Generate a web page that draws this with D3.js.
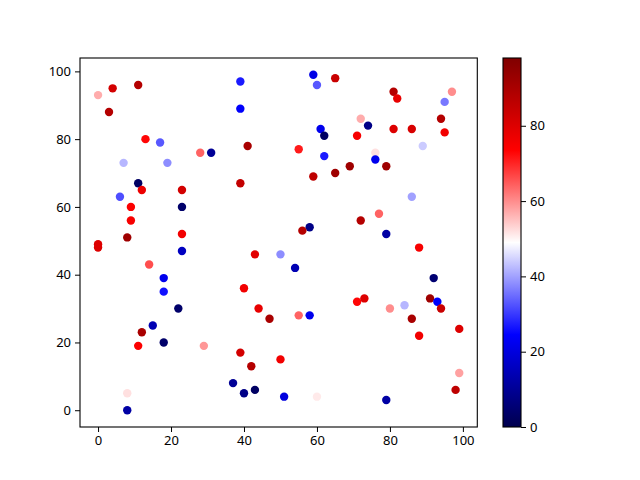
<!DOCTYPE html>
<html>
<head>
<meta charset="utf-8">
<script src="https://cdn.jsdelivr.net/npm/d3@7"></script>
<style>
  body { margin: 0; background: #fff; }
  text { font-family: "Noto Sans", "DejaVu Sans", sans-serif; }
</style>
</head>
<body>
<div id="chart"></div>
<script>
// point values
const xs = [0,4,11,3,39,39,13,17,41,28,31,7,19,11,12,23,39,6,9,23,9,8,23,0,
  59,60,65,81,82,97,95,72,74,61,62,71,81,86,94,95,89,55,62,76,76,69,79,59,65,86,77,72,58,56,79,
  0,23,43,50,14,18,18,22,40,44,47,15,12,11,18,29,39,42,50,37,40,43,8,8,
  88,54,92,71,73,80,84,91,93,94,55,58,86,99,88,99,98,51,60,79];
const ys = [93,95,96,88,97,89,80,79,78,76,76,73,73,67,65,65,67,63,60,60,56,51,52,49,
  99,96,98,94,92,94,91,86,84,83,81,81,83,83,86,82,78,77,75,76,74,72,72,69,70,63,58,56,54,53,52,
  48,47,46,46,43,39,35,30,36,30,27,25,23,19,20,19,17,13,15,8,5,6,5,0,
  48,42,39,32,33,30,31,33,32,30,28,28,27,24,22,11,6,4,4,3];
const cs = [57,82,88,88,27,24,73,33,90,64,10,42,38,3,77,82,85,32,74,4,75,92,76,80,
  21,33,84,88,78,60,36,57,8,22,3,75,80,81,88,76,44,71,27,52,22,92,92,86,92,40,64,88,8,88,12,
  80,16,79,38,66,22,26,4,76,78,90,14,90,74,4,59,82,88,76,10,8,3,52,12,
  75,14,5,73,80,60,42,92,24,84,64,22,90,80,76,58,86,20,51,12];
const cTicks = [0, 20, 40, 60, 80];
const axisTicks = [0, 20, 40, 60, 80, 100];

const W = 640, H = 480;
const plot = { left: 80, right: 477.3, top: 58, bottom: 427 };
const cbar = { left: 503, right: 521 };

const svg = d3.select("#chart").append("svg")
  .attr("width", W).attr("height", H);

// seismic colormap
const vmin = 0, vmax = 98;
const color = d3.scaleLinear()
  .domain([0, 0.25, 0.5, 0.75, 1].map(t => vmin + t * (vmax - vmin)))
  .range(["rgb(0,0,77)", "rgb(0,0,255)", "rgb(255,255,255)", "rgb(255,0,0)", "rgb(128,0,0)"])
  .clamp(true);

const x = d3.scaleLinear().domain([-4.95, 103.95]).range([plot.left, plot.right]);
const y = d3.scaleLinear().domain([-4.95, 103.95]).range([plot.bottom, plot.top]);

const data = xs.map((d, i) => ({ x: d, y: ys[i], c: cs[i] }));

svg.append("g").selectAll("circle")
  .data(data)
  .enter()
  .append("circle")
  .attr("cx", d => x(d.x))
  .attr("cy", d => y(d.y))
  .attr("r", 4.2)
  .attr("fill", d => color(d.c));

// axes
const xAxis = d3.axisBottom(x).tickValues(axisTicks).tickSize(5).tickPadding(4);
const yAxis = d3.axisLeft(y).tickValues(axisTicks).tickSize(5).tickPadding(4);

svg.append("g")
  .attr("transform", `translate(0, ${plot.bottom})`)
  .call(xAxis)
  .call(g => g.select(".domain").remove());
svg.append("g")
  .attr("transform", `translate(${plot.left}, 0)`)
  .call(yAxis)
  .call(g => g.select(".domain").remove());

svg.selectAll(".tick text").attr("font-size", 13).attr("fill", "#000")
  .style("font-family", '"Noto Sans", "DejaVu Sans", sans-serif');
svg.selectAll(".tick line").attr("stroke", "#000").attr("stroke-width", 1);

svg.append("rect")
  .attr("x", plot.left).attr("y", plot.top)
  .attr("width", plot.right - plot.left).attr("height", plot.bottom - plot.top)
  .attr("fill", "none").attr("stroke", "#000").attr("stroke-width", 1.1);

// colorbar
const cScale = d3.scaleLinear().domain([vmin, vmax]).range([plot.bottom, plot.top]);
const grad = svg.append("defs").append("linearGradient")
  .attr("id", "seismic").attr("x1", 0).attr("y1", 1).attr("x2", 0).attr("y2", 0);
d3.range(0, 1.0001, 0.05).forEach(t => {
  grad.append("stop").attr("offset", t).attr("stop-color", color(vmin + t * (vmax - vmin)));
});
svg.append("rect")
  .attr("x", cbar.left).attr("y", plot.top)
  .attr("width", cbar.right - cbar.left).attr("height", plot.bottom - plot.top)
  .attr("fill", "url(#seismic)")
  .attr("stroke", "#000").attr("stroke-width", 1.1);

const cAxis = svg.append("g")
  .attr("transform", `translate(${cbar.right}, 0)`)
  .call(d3.axisRight(cScale).tickValues(cTicks).tickSize(5).tickPadding(4))
  .call(g => g.select(".domain").remove());
cAxis.selectAll("text").attr("font-size", 13).attr("fill", "#000")
  .style("font-family", '"Noto Sans", "DejaVu Sans", sans-serif');
cAxis.selectAll("line").attr("stroke", "#000");
</script>
</body>
</html>
